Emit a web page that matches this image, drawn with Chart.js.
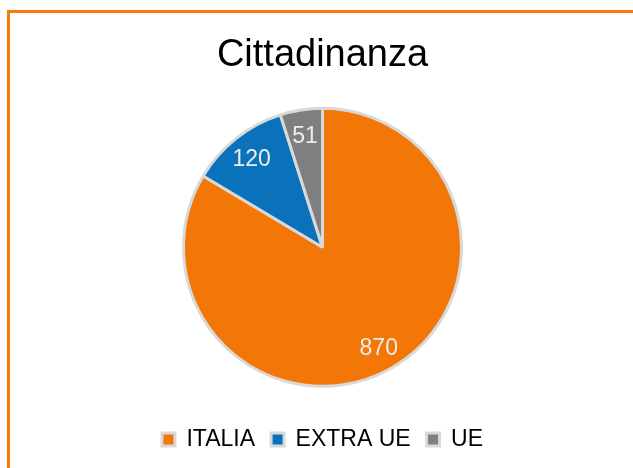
<!DOCTYPE html>
<html>
<head>
<meta charset="utf-8">
<script src="https://cdn.jsdelivr.net/npm/chart.js@4/dist/chart.umd.min.js"></script>
<style>
  html, body { margin: 0; padding: 0; background: #fff; overflow: hidden; }
  #wrap { width: 633px; height: 468px; position: relative; }
</style>
</head>
<body>
<div id="wrap"><canvas id="myChart"></canvas></div>
<script>
// chart data
const categories = ['ITALIA', 'EXTRA UE', 'UE'];
const values = [870, 120, 51];
const sliceColors = ['#F27706', '#0A72BA', '#7F7F7F'];
const chartTitle = 'Cittadinanza';

const FONT = '"Liberation Sans", Arial, sans-serif';

// orange frame, cut off on the right and bottom like the original
const framePlugin = {
    id: 'frame',
    beforeDraw(chart) {
        const ctx = chart.ctx;
        ctx.save();
        ctx.strokeStyle = '#F57A08';
        ctx.lineWidth = 3;
        ctx.strokeRect(8.5, 11.5, 700, 500);
        ctx.restore();
    }
};

// value labels inside the slices
const valueLabels = {
    id: 'valueLabels',
    afterDatasetsDraw(chart) {
        const ctx = chart.ctx;
        const meta = chart.getDatasetMeta(0);
        ctx.save();
        ctx.font = '23px ' + FONT;
        ctx.fillStyle = '#EDEDED';
        ctx.textAlign = 'center';
        ctx.textBaseline = 'middle';
        meta.data.forEach(function(arc, i) {
            const p = arc.getProps(['x', 'y', 'startAngle', 'endAngle', 'outerRadius'], true);
            const mid = (p.startAngle + p.endAngle) / 2;
            const r = p.outerRadius * 0.82;
            ctx.fillText(String(values[i]), p.x + Math.cos(mid) * r, p.y + Math.sin(mid) * r + 2);
        });
        ctx.restore();
    }
};

window.onload = function() {
    const ctx = document.getElementById('myChart').getContext('2d');
    new Chart(ctx, {
        type: 'pie',
        data: {
            labels: categories,
            datasets: [{
                data: values,
                backgroundColor: sliceColors,
                borderColor: '#D9D9D9',
                borderWidth: 3,
                radius: 139
            }]
        },
        options: {
            responsive: false,
            animation: false,
            layout: { padding: { top: 20, bottom: 7, left: 12, right: 0 } },
            plugins: {
                title: {
                    display: true,
                    text: chartTitle,
                    color: '#000',
                    font: { family: FONT, size: 38, weight: 'normal' },
                    padding: { top: 13, bottom: 4 }
                },
                legend: {
                    position: 'bottom',
                    labels: {
                        color: '#000',
                        font: { family: FONT, size: 23 },
                        boxWidth: 13,
                        boxHeight: 13,
                        padding: 16
                    }
                },
                tooltip: { enabled: false }
            }
        },
        plugins: [framePlugin, valueLabels]
    });
};

// fixed canvas size
document.getElementById('myChart').width = 633;
document.getElementById('myChart').height = 468;
</script>
</body>
</html>
